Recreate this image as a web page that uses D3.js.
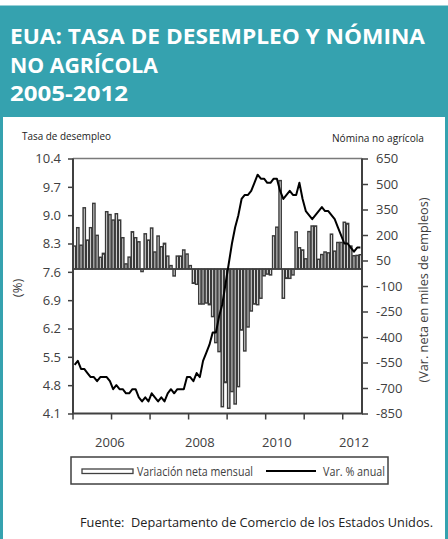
<!DOCTYPE html>
<html>
<head>
<meta charset="utf-8">
<script src="https://cdn.jsdelivr.net/npm/d3@7"></script>
<style>
  body { margin: 0; background: #fff; }
  svg { display: block; font-family: "Open Sans", sans-serif; }
</style>
</head>
<body>
<div id="chart"></div>
<script>
// Monthly net change in non-farm payrolls (thousands), Jan 2005 - Jun 2012
const payroll = [
  135, 243, 140, 360, 170, 243, 386, 198, 69, 92, 337, 320,
  288, 325, 288, 184, 30, 70, 219, 184, 160, -15, 207, 170,
  241, 100, 194, 131, 151, 76, 20, -41, 76, 76, 112, 88,
  20, -84, -90, -206, -206, -200, -210, -280, -433, -486, -810, -668,
  -819, -721, -794, -692, -359, -482, -341, -247, -206, -210, -172, -40,
  -30, -35, 195, 246, 520, -172, -55, -55, -35, 218, 125, 112,
  60, 220, 253, 253, 57, 85, 100, 95, 205, 105, 156, 156,
  275, 268, 135, 78, 80, 84,
];
// Unemployment rate (%)
const unemployment = [
  5.3, 5.4, 5.2, 5.2, 5.1, 5.0, 5.0, 4.9, 5.0, 5.0, 5.0, 4.9,
  4.7, 4.8, 4.7, 4.7, 4.6, 4.6, 4.7, 4.7, 4.5, 4.4, 4.5, 4.4,
  4.6, 4.5, 4.4, 4.5, 4.4, 4.6, 4.7, 4.6, 4.7, 4.7, 4.7, 5.0,
  5.0, 4.9, 5.1, 5.0, 5.4, 5.6, 5.8, 6.1, 6.1, 6.5, 6.8, 7.3,
  7.8, 8.3, 8.7, 9.0, 9.4, 9.5, 9.5, 9.6, 9.8, 10.0, 9.9, 9.9,
  9.8, 9.8, 9.9, 9.9, 9.6, 9.4, 9.5, 9.6, 9.5, 9.5, 9.8, 9.4,
  9.1, 9.0, 8.9, 9.0, 9.1, 9.2, 9.1, 9.1, 9.0, 8.9, 8.7, 8.5,
  8.3, 8.3, 8.2, 8.1, 8.2, 8.2,
];
const months = d3.timeMonth.range(new Date(2005, 0, 1), new Date(2012, 6, 1));
const leftTicks = [10.4, 9.7, 9.0, 8.3, 7.6, 6.9, 6.2, 5.5, 4.8, 4.1];
const rightTicks = [650, 500, 350, 200, 50, -100, -250, -400, -550, -700, -850];
const yearLabels = ["2006", "2008", "2010", "2012"];
const yearLabelMonth = [11, 39, 63, 87]; // category index where each label sits

const titleLines = ["EUA: TASA DE DESEMPLEO Y NÓMINA", "NO AGRÍCOLA", "2005-2012"];
const teal = "#35a2af";
const ink = "#404040";

const width = 448, height = 539;
const plot = { left: 73, right: 362, top: 158.5, bottom: 413.5 };

const svg = d3.select("#chart").append("svg")
  .attr("width", width).attr("height", height);

// frame + header
svg.append("rect")
  .attr("x", 1.5).attr("y", 7).attr("width", width - 3).attr("height", height)
  .attr("fill", "none").attr("stroke", teal).attr("stroke-width", 3);
svg.append("rect")
  .attr("x", 0).attr("y", 7).attr("width", width).attr("height", 110)
  .attr("fill", teal);
svg.selectAll(".title")
  .data(titleLines)
  .join("text")
  .attr("class", "title")
  .attr("x", 10)
  .attr("y", (d, i) => 44 + i * 28.5)
  .attr("fill", "#fff")
  .attr("font-size", 22)
  .attr("font-weight", 700)
  .text((d) => d)
  .each(function (d, i) {
    const target = [415, 148, 118][i];
    d3.select(this).attr("textLength", target).attr("lengthAdjust", "spacingAndGlyphs");
  });

// scales
const x = d3.scaleBand()
  .domain(months)
  .range([plot.left, plot.right])
  .paddingInner(0.3)
  .paddingOuter(0.15);
const edge = (i) => x(months[i]) - x.step() * 0.15;
const yL = d3.scaleLinear().domain([4.1, 10.4]).range([plot.bottom, plot.top]);
const yR = d3.scaleLinear().domain([-850, 650]).range([plot.bottom, plot.top]);

// bars
svg.append("g")
  .selectAll("rect")
  .data(payroll)
  .join("rect")
  .attr("x", (d, i) => x(months[i]))
  .attr("width", x.bandwidth())
  .attr("y", (d) => yR(Math.max(0, d)))
  .attr("height", (d) => Math.abs(yR(d) - yR(0)))
  .attr("fill", "#fff")
  .attr("stroke", "#3a3a3a")
  .attr("stroke-width", 1.45);
svg.append("line")
  .attr("x1", plot.left).attr("x2", plot.right)
  .attr("y1", yR(0)).attr("y2", yR(0))
  .attr("stroke", ink).attr("stroke-width", 1.3);

// line
svg.append("path")
  .datum(unemployment)
  .attr("fill", "none")
  .attr("stroke", "#000")
  .attr("stroke-width", 2)
  .attr("stroke-linejoin", "round")
  .attr("d", d3.line()
    .x((d, i) => x(months[i]) + x.bandwidth() / 2)
    .y((d) => yL(d)));

// plot frame
svg.append("line")
  .attr("x1", plot.left).attr("x2", plot.right)
  .attr("y1", plot.top).attr("y2", plot.top)
  .attr("stroke", "#7a7a7a").attr("stroke-width", 1.5);
svg.append("path")
  .attr("d", `M${plot.left},${plot.top}V${plot.bottom}H${plot.right}V${plot.top}`)
  .attr("fill", "none").attr("stroke", ink).attr("stroke-width", 2);

// axes
const styleAxis = (g) => {
  g.select(".domain").remove();
  g.selectAll(".tick line").attr("stroke", ink).attr("stroke-width", 1.5);
  g.selectAll(".tick text")
    .attr("fill", ink)
    .attr("font-size", 13)
    .attr("font-family", "Open Sans, sans-serif");
};
svg.append("g")
  .attr("transform", `translate(${plot.left},0)`)
  .call(d3.axisLeft(yL).tickValues(leftTicks).tickFormat((d) => d.toFixed(1)).tickSize(5).tickPadding(7))
  .call(styleAxis);
svg.append("g")
  .attr("transform", `translate(${plot.right},0)`)
  .call(d3.axisRight(yR).tickValues(rightTicks).tickFormat((d) => String(d)).tickSize(6).tickPadding(8))
  .call(styleAxis);

// bottom ticks at each January
svg.append("g")
  .selectAll("line")
  .data(months.map((m, i) => i).filter((i) => months[i].getMonth() === 0))
  .join("line")
  .attr("x1", (i) => edge(i)).attr("x2", (i) => edge(i))
  .attr("y1", plot.bottom).attr("y2", plot.bottom + 6)
  .attr("stroke", ink).attr("stroke-width", 1.5);
svg.append("g")
  .selectAll("text")
  .data(yearLabels)
  .join("text")
  .attr("x", (d, i) => x(months[yearLabelMonth[i]]) + x.bandwidth() / 2)
  .attr("y", 447)
  .attr("text-anchor", "middle")
  .attr("fill", ink)
  .attr("font-size", 13)
  .text((d) => d);

// axis titles
svg.append("text")
  .attr("x", 22).attr("y", 139.5)
  .attr("font-size", 10).attr("fill", "#222")
  .attr("textLength", 89).attr("lengthAdjust", "spacingAndGlyphs")
  .text("Tasa de desempleo");
svg.append("text")
  .attr("x", 332).attr("y", 141.5)
  .attr("font-size", 10).attr("fill", "#222")
  .attr("textLength", 92).attr("lengthAdjust", "spacingAndGlyphs")
  .text("Nómina no agrícola");
svg.append("text")
  .attr("transform", "translate(22,288) rotate(-90)")
  .attr("text-anchor", "middle")
  .attr("font-size", 13).attr("fill", ink)
  .text("(%)");
svg.append("text")
  .attr("transform", "translate(428,290) rotate(-90)")
  .attr("text-anchor", "middle")
  .attr("font-size", 13).attr("fill", ink)
  .attr("textLength", 185).attr("lengthAdjust", "spacingAndGlyphs")
  .text("(Var. neta en miles de empleos)");

// legend
const legend = svg.append("g");
legend.append("rect")
  .attr("x", 71).attr("y", 457).attr("width", 317).attr("height", 27)
  .attr("fill", "#fff").attr("stroke", ink).attr("stroke-width", 1.5);
legend.append("rect")
  .attr("x", 82).attr("y", 469).attr("width", 51).attr("height", 4.5)
  .attr("fill", "#fff").attr("stroke", ink).attr("stroke-width", 1.3);
legend.append("text")
  .attr("x", 137).attr("y", 476)
  .attr("font-size", 12).attr("fill", ink)
  .attr("textLength", 116).attr("lengthAdjust", "spacingAndGlyphs")
  .text("Variación neta mensual");
legend.append("line")
  .attr("x1", 266).attr("x2", 316).attr("y1", 471).attr("y2", 471)
  .attr("stroke", "#000").attr("stroke-width", 2);
legend.append("text")
  .attr("x", 323).attr("y", 476)
  .attr("font-size", 12).attr("fill", ink)
  .attr("textLength", 62).attr("lengthAdjust", "spacingAndGlyphs")
  .text("Var. % anual");

// source
svg.append("text")
  .attr("x", 80).attr("y", 527)
  .attr("font-size", 12).attr("fill", "#222")
  .style("white-space", "pre")
  .attr("textLength", 353).attr("lengthAdjust", "spacingAndGlyphs")
  .text("Fuente:  Departamento de Comercio de los Estados Unidos.");
</script>
</body>
</html>
